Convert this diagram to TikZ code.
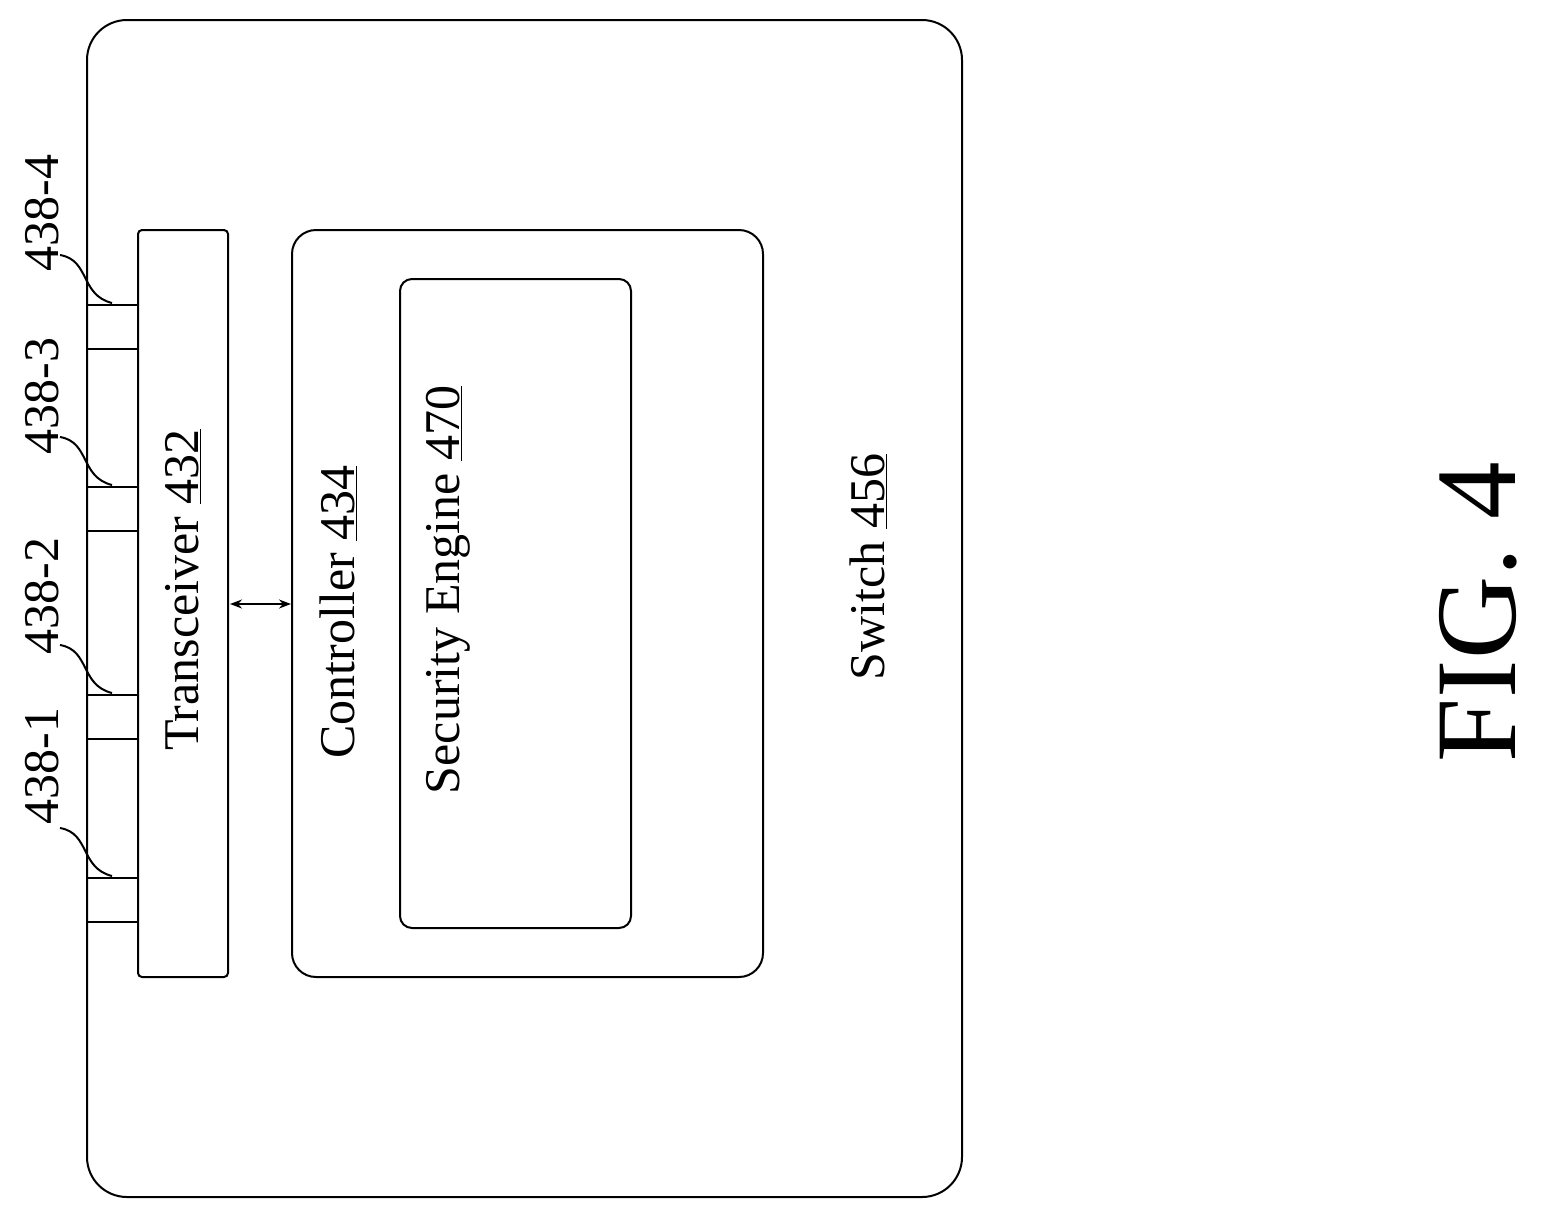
\documentclass[tikz,border=0pt]{standalone}
\usepackage{fontspec}
\setmainfont{Liberation Serif}
\usetikzlibrary{arrows.meta}
\tikzset{
  blockbox/.style={draw,line width=2pt,rounded corners=#1},
  blockbox/.default=4pt,
  lbl/.style={rotate=90,font=\fontsize{50}{54}\selectfont},
  portline/.style={line width=2pt},
}
\begin{document}
\begin{tikzpicture}[x=1pt,y=-1pt,>={Stealth[length=12pt,width=9pt]}]
\useasboundingbox (0,0) rectangle (1541,1219);
%%
\draw[blockbox=40pt] (87,20) rectangle (962,1197);
\draw[blockbox] (138,230) rectangle (228,977);
\draw[blockbox=24pt] (292,230) rectangle (763,977);
\draw[blockbox=12pt] (400,279) rectangle (631,928);
\node[lbl] (trx) at (183,590) {Transceiver \underline{432}};
\node[lbl] (ctrl) at (338,612) {Controller \underline{434}};
\node[lbl] (sec) at (448,590) {Security Engine \underline{470}};
\node[lbl] (sw) at (868,567) {Switch \underline{456}};
\node[rotate=90,font=\fontsize{115}{120}\selectfont] (fig) at (1478,612) {FIG. 4};
\coordinate (arrowA) at (230,604);
\coordinate (arrowB) at (291,604);
\draw[portline,<->] (arrowA) -- (arrowB);
% ports
\foreach \y/\n in {878/1,695/2,487/3,305/4}{
  \draw[portline] (88,\y) -- (138,\y);
  \draw[portline] (88,\y+44) -- (138,\y+44);
  \coordinate (lead\n) at (60,\y-50);
  \coordinate (port\n) at (112,\y-2);
  \draw[portline] (lead\n) .. controls (90,\y-45) and (80,\y-10) .. (port\n);
}
\node[lbl,anchor=west] (p1) at (42,828) {438-1};
\node[lbl,anchor=west] (p2) at (42,658) {438-2};
\node[lbl,anchor=west] (p3) at (42,458) {438-3};
\node[lbl,anchor=west] (p4) at (42,275) {438-4};
%
\end{tikzpicture}
\end{document}
